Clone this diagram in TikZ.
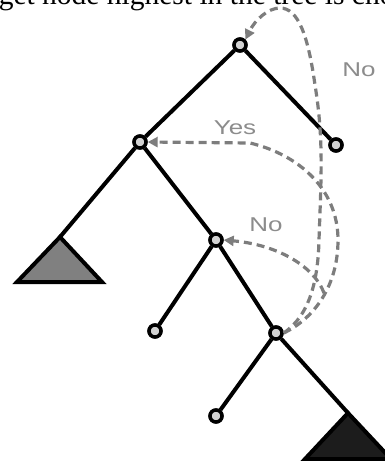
\documentclass[tikz,border=0pt]{standalone}
\usepackage{fontspec}
\setmainfont{Liberation Serif}
\newfontfamily\lsans{Liberation Sans}
\usetikzlibrary{arrows.meta}
\definecolor{dashgray}{RGB}{125,125,125}
\definecolor{labgray}{RGB}{140,140,140}
\definecolor{nodefill}{RGB}{210,210,210}
\definecolor{trifill}{RGB}{128,128,128}
\definecolor{tridark}{RGB}{28,28,28}
\newcommand{\widelab}[1]{\scalebox{1.3}[1]{#1}}
\begin{document}
\begin{tikzpicture}[x=1pt,y=-1pt,
  treenode/.style={circle,draw=black,line width=3.4pt,fill=nodefill,minimum size=12pt,inner sep=0pt},
  edge/.style={line width=4pt,black},
  tri/.style={draw=black,line width=4pt,line join=miter},
  jump/.style={draw=dashgray,line width=3.2pt,dash pattern=on 8pt off 5pt,-{Triangle[length=10pt,width=10pt]}},
  lab/.style={text=labgray,font=\lsans\fontsize{20}{22}\selectfont,inner sep=0pt}]
\path[use as bounding box] (0,0) rectangle (385,461);
\clip (0,0) rectangle (385,461);
% caption (cut off at the top)
\node[anchor=south west,inner sep=0pt,font=\fontsize{29.5}{31}\selectfont] (cap) at (-32,11) {target node highest in the tree is chosen};
% positions
\coordinate (t1) at (60,237);
\coordinate (t2) at (348,413);
\node[treenode] (n1) at (240,45) {};
\node[treenode] (n2) at (336,145) {};
\node[treenode] (n3) at (140,142) {};
\node[treenode] (n4) at (216,240) {};
\node[treenode] (n6) at (155,331) {};
\node[treenode] (n5) at (276,333) {};
\node[treenode] (n7) at (216,416) {};
% triangles
\filldraw[tri,fill=trifill] (t1) -- (17,282) -- (102,282) -- cycle;
\filldraw[tri,fill=tridark] (t2) -- (305,459) -- (391,459) -- cycle;
% tree edges
\draw[edge] (n1) -- (n2);
\draw[edge] (n1) -- (n3);
\draw[edge] (n3) -- (t1);
\draw[edge] (n3) -- (n4);
\draw[edge] (n4) -- (n6);
\draw[edge] (n4) -- (n5);
\draw[edge] (n5) -- (n7);
\draw[edge] (n5) -- (t2);
% redraw nodes on top
\foreach \n in {n1,n2,n3,n4,n5,n6,n7}{\node[treenode] at (\n) {};}
% dashed jumps
\draw[jump] (n5.east) .. controls (310,315) and (318,280) .. (319,240)
  .. controls (321,180) and (324,140) .. (315,85)
  .. controls (308,35) and (298,8) .. (280,8)
  .. controls (268,8) and (255,20) .. (n1.north east);
\draw[jump] (n5.east) .. controls (315,318) and (338,285) .. (338,240)
  .. controls (338,190) and (300,155) .. (250,143) -- (n3.east);
\coordinate (split) at (324,293);
\draw[jump] (split) .. controls (315,268) and (280,245) .. (n4.east);
% labels
\node[lab] (lno1) at (359,70) {\widelab{No}};
\node[lab] (lyes) at (235,128) {\widelab{Yes}};
\node[lab] (lno2) at (266,225) {\widelab{No}};
\end{tikzpicture}
\end{document}
